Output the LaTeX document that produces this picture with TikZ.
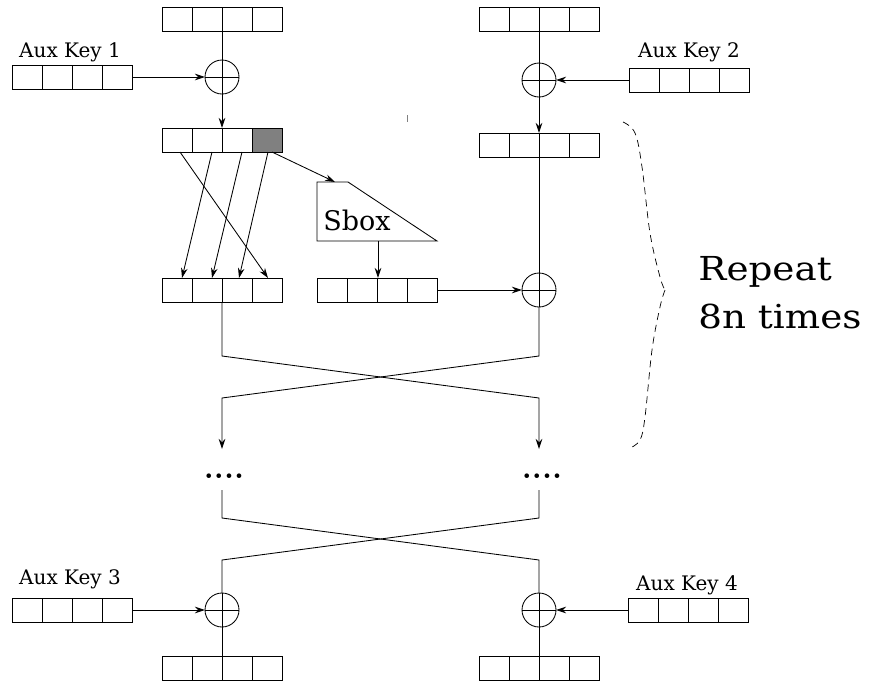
\documentclass[tikz,border=0pt]{standalone}
\usepackage{fontspec}
\newfontfamily\dv{DejaVu Serif}
\usetikzlibrary{arrows.meta,calc}
\definecolor{cellgray}{HTML}{808080}
\newcommand{\regdividers}{%
  \foreach \f in {0.25,0.5,0.75}{%
    \draw ($(path picture bounding box.south west)!\f!(path picture bounding box.south east)$) --
          ($(path picture bounding box.north west)!\f!(path picture bounding box.north east)$);}}
\begin{document}
\begin{tikzpicture}[x=1pt,y=-1pt,line width=0.85pt,
  >={Stealth[length=10pt,width=6.5pt]},
  reg/.style={draw,minimum width=120pt,minimum height=24pt,inner sep=0pt,outer sep=0pt,
    path picture={\regdividers}},
  regg/.style={draw,minimum width=120pt,minimum height=24pt,inner sep=0pt,outer sep=0pt,
    path picture={\fill[cellgray] ($(path picture bounding box.south west)!0.75!(path picture bounding box.south east)$) rectangle (path picture bounding box.north east);\regdividers}},
  xor/.style={draw,circle,minimum size=34pt,inner sep=0pt,outer sep=0pt,
    path picture={\draw (path picture bounding box.west) -- (path picture bounding box.east);
                  \draw (path picture bounding box.north) -- (path picture bounding box.south);}},
  lab/.style={inner sep=0pt,anchor=base,font=\dv\fontsize{20}{22}\selectfont},
  big/.style={inner sep=0pt,anchor=base west,font=\dv\fontsize{33}{36}\selectfont},
  dots/.style={inner sep=0pt,font=\bfseries\fontsize{32}{32}\selectfont},
  brace/.style={dash pattern=on 7pt off 5pt,line width=0.7pt}]
\useasboundingbox (0,0) rectangle (873,681);
% top left
\node[reg] (regTL) at (222,19.5) {};
\node[reg] (key1) at (72,77) {};
\node[lab] (lab1) at (70,57) {Aux Key 1};
\node[xor] (x1) at (222,77) {};
\node[regg] (regL2) at (222,140) {};
\node[reg] (regL3) at (222,290) {};
% sbox
\draw (317,182) -- (348,182) -- (437,241) -- (317,241) -- cycle;
\node[inner sep=0pt,anchor=base west,font=\dv\fontsize{27}{30}\selectfont] (sbox) at (323,230) {Sbox};
\coordinate (sboxIn) at (335,182);
\coordinate (sboxOut) at (378,241);
\node[reg] (regS) at (377,290) {};
% top right
\node[reg] (regTR) at (539,19.5) {};
\node[xor] (x2) at (539,80) {};
\node[reg] (key2) at (689,80) {};
\node[lab] (lab2) at (689,57) {Aux Key 2};
\node[reg] (regR2) at (539,145) {};
\node[xor] (x3) at (539,290) {};
% connectors top
\draw (regTL) -- (x1);
\draw[->] (key1) -- (x1);
\draw[->] (x1) -- (regL2);
\draw (regTR) -- (x2);
\draw[->] (key2) -- (x2);
\draw[->] (x2) -- (regR2);
\draw (regR2) -- (x3);
\draw[->] (regS) -- (x3);
\draw[->] ([xshift=18pt]regL2.south west) -- ([xshift=106pt]regL3.north west);
\draw[->] ([xshift=50pt]regL2.south west) -- ([xshift=20pt]regL3.north west);
\draw[->] ([xshift=80pt]regL2.south west) -- ([xshift=50pt]regL3.north west);
\draw[->] ([xshift=106pt]regL2.south west) -- ([xshift=77pt]regL3.north west);
\draw[->] ([xshift=110pt]regL2.south west) -- (sboxIn);
\draw[->] (sboxOut) -- (sboxOut |- regS.north);
% crossing 1
\coordinate (cL1) at (222,356);
\coordinate (cR1) at (539,356);
\coordinate (cL2) at (222,398);
\coordinate (cR2) at (539,398);
\coordinate (aL) at (222,449);
\coordinate (aR) at (539,449);
\draw[->] (regL3) -- (cL1) -- (cR2) -- (aR);
\draw[->] (x3) -- (cR1) -- (cL2) -- (aL);
\node[dots] (dotsL) at (224,476) {....};
\node[dots] (dotsR) at (542,476) {....};
% crossing 2
\coordinate (bL) at (222,490);
\coordinate (bR) at (539,490);
\coordinate (cL3) at (222,518);
\coordinate (cR3) at (539,518);
\coordinate (cL4) at (222,560);
\coordinate (cR4) at (539,560);
\node[xor] (x4) at (222,610) {};
\node[xor] (x5) at (539,610) {};
\draw (bL) -- (cL3) -- (cR4) -- (x5);
\draw (bR) -- (cR3) -- (cL4) -- (x4);
% bottom
\node[reg] (key3) at (72,610) {};
\node[lab] (lab3) at (70,584) {Aux Key 3};
\node[reg] (key4) at (688,610) {};
\node[lab] (lab4) at (687,590) {Aux Key 4};
\draw[->] (key3) -- (x4);
\draw[->] (key4) -- (x5);
\node[reg] (regBL) at (222,668.5) {};
\node[reg] (regBR) at (539,668.5) {};
\draw (x4) -- (regBL);
\draw (x5) -- (regBR);
% brace
\draw[brace] plot[smooth,tension=0.6] coordinates {(623,122) (635,133) (642,167) (650,233) (660,277) (665,290)};
\draw[brace] plot[smooth,tension=0.6] coordinates {(665,290) (660,307) (652,350) (645,417) (640,440) (630,448)};
\node[big] (rep1) at (698,280) {\scalebox{1.13}[1]{Repeat}};
\node[big] (rep2) at (698,328) {\scalebox{1.13}[1]{8n times}};
% stray tick
\draw[line width=0.6pt,gray] (407.5,115) -- (407.5,122);
\end{tikzpicture}
\end{document}
